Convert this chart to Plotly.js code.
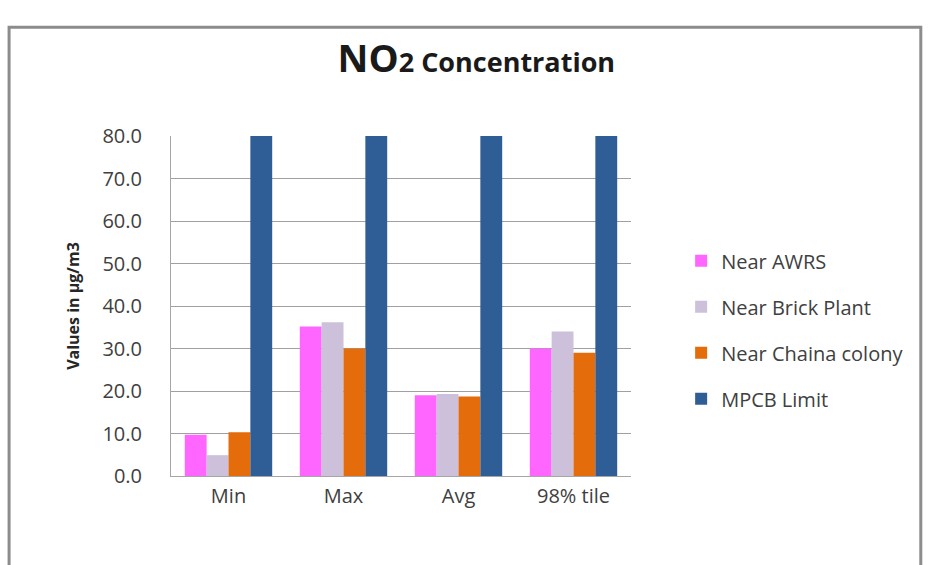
<!DOCTYPE html>
<html>
<head>
<meta charset="utf-8">
<script src="https://cdn.plot.ly/plotly-3.0.1.min.js"></script>
<style>body{margin:0;padding:0;background:#fff;} #chart{width:934px;height:565px;}</style>
</head>
<body>
<div id="chart"></div>
<script>
var categories = ["Min", "Max", "Avg", "98% tile"];
var nearAWRS = [9.7, 35.2, 19.0, 30.0];
var nearBrick = [4.9, 36.2, 19.3, 34.0];
var nearChaina = [10.3, 30.0, 18.7, 29.0];
var mpcbLimit = [80, 80, 80, 80];
var seriesNames = ["Near AWRS", "Near Brick Plant", "Near Chaina colony", "MPCB Limit"];
var seriesColors = ["#FF66FF", "#CCC0DA", "#E46C0A", "#2F5E96"];
var seriesValues = [nearAWRS, nearBrick, nearChaina, mpcbLimit];

var traces = seriesValues.map(function(vals, i) {
  return {
    type: "bar",
    x: categories,
    y: vals,
    name: seriesNames[i],
    legendgroup: "g" + i,
    marker: {color: seriesColors[i], line: {width: 0}},
    hoverinfo: "x+y+name"
  };
});

var layout = {
  width: 934, height: 565,
  paper_bgcolor: "#ffffff",
  plot_bgcolor: "#ffffff",
  margin: {l: 171, r: 303, t: 136, b: 89},
  barmode: "group",
  bargap: 0.24,
  bargroupgap: 0,
  showlegend: true,
  font: {family: "Open Sans, sans-serif", color: "#404040"},
  title: {
    text: "<b><span style='font-size:38px'>NO</span>2 Concentration</b>",
    font: {family: "Open Sans, sans-serif", size: 27, color: "#1a1a1a"},
    x: 0.51, xanchor: "center", y: 0.89, yanchor: "middle"
  },
  xaxis: {
    type: "category",
    range: [-0.5, 3.5],
    showgrid: false,
    showline: true,
    linecolor: "#a6a6a6",
    linewidth: 1,
    ticks: "",
    tickfont: {size: 20, color: "#404040"},
    ticklabelstandoff: 2
  },
  yaxis: {
    range: [0, 80],
    dtick: 10,
    tickformat: ".1f",
    showgrid: true,
    gridcolor: "#a0a0a0",
    gridwidth: 1,
    showline: true,
    linecolor: "#a6a6a6",
    linewidth: 1,
    ticks: "",
    zeroline: false,
    tickfont: {size: 20, color: "#404040"},
    ticklabelstandoff: 24,
    title: {
      text: "<b>Values in µg/m3</b>",
      font: {size: 16, color: "#262626"},
      standoff: 18
    }
  },
  legend: {
    x: 1.109, xanchor: "left",
    y: 0.43, yanchor: "middle",
    font: {size: 20, color: "#404040"},
    tracegroupgap: 17,
    traceorder: "grouped",
    bgcolor: "rgba(0,0,0,0)",
    itemwidth: 30
  },
  shapes: [{
    type: "rect", xref: "paper", yref: "paper",
    x0: -0.352, x1: 1.63, y0: -0.3, y1: 1.32,
    line: {color: "#8c8c8c", width: 3},
    layer: "below"
  }]
};

Plotly.newPlot("chart", traces, layout, {displayModeBar: false, staticPlot: true});
</script>
</body>
</html>
